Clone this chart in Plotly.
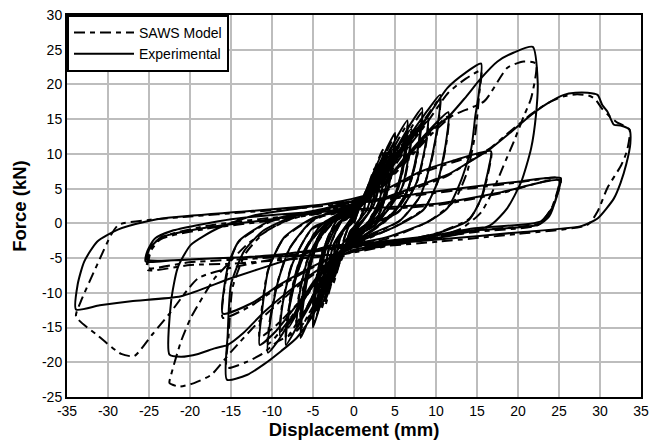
import plotly.graph_objects as go

# ---------------- Data (displacement mm, force kN) ----------------
# Experimental hysteresis, one list of (disp, force) per cycle
exp_c01 = [(0,0),(0.8,2.8),(1.5,4.6),(1.2,2.0),(0.5,0.2),(-0.5,-1.2),(-1.0,-3.0),(-1.5,-5.0),(-1.2,-2.2),(-0.5,-0.1),(0,0.4)]
exp_c02 = [(0.5,1.8),(1.5,4.8),(2.5,7.6),(2.2,4.5),(1.5,1.8),(0,-0.5),(-1.2,-3.6),(-2.5,-8.2),(-2.2,-5.0),(-1.5,-1.5),(0,0.8)]
exp_c03 = [(1.0,3.0),(2.2,6.8),(3.5,10.2),(3.2,6.5),(2.4,2.6),(0.5,-0.6),(-1.5,-4.2),(-2.6,-7.8),(-3.5,-11.2),(-3.2,-7.0),(-2.4,-2.8),(-0.5,0.4),(0,1.2)]
exp_c04 = [(0.8,2.6),(2.0,5.8),(3.0,8.3),(2.7,5.2),(1.8,1.6),(0,-1.0),(-1.8,-5.3),(-3.0,-9.2),(-2.7,-5.8),(-1.8,-1.8),(0,1.0)]
exp_c05 = [(1.2,3.8),(2.8,7.8),(4.0,10.8),(5.0,13.0),(4.7,9.0),(4.0,4.5),(3.0,1.2),(1.0,-0.9),(-1.0,-3.2),(-2.5,-6.5),(-3.8,-10.5),(-5.0,-15.0),(-4.7,-10.5),(-4.0,-5.5),(-3.0,-1.5),(-1.0,1.0),(0,1.6)]
exp_c06 = [(1.0,3.0),(2.5,6.6),(4.0,10.2),(3.7,6.8),(3.0,3.0),(1.5,-0.2),(0,-1.6),(-1.6,-4.4),(-2.8,-8.0),(-4.0,-12.0),(-3.7,-8.0),(-3.0,-3.5),(-1.5,0.4),(0,1.4)]
exp_c07 = [(1.2,3.5),(3.0,7.6),(4.8,11.5),(6.5,14.8),(6.3,11.0),(5.6,6.5),(4.5,2.6),(2.5,-0.3),(0,-2.1),(-2.5,-5.8),(-4.2,-10.0),(-5.5,-13.8),(-6.5,-16.5),(-6.2,-11.8),(-5.4,-6.5),(-4.2,-2.2),(-2.0,0.8),(0,2.0)]
exp_c08 = [(1.4,3.6),(3.0,7.4),(4.5,10.8),(4.2,7.2),(3.4,3.2),(1.6,0.0),(0,-1.4),(-1.8,-4.6),(-3.3,-8.6),(-4.5,-12.6),(-4.2,-8.6),(-3.4,-3.6),(-1.8,0.2),(0,1.2)]
exp_c09 = [(1.5,4.0),(3.2,7.8),(5.0,11.5),(4.7,8.0),(3.8,3.6),(2.0,0.2),(0,-2.4),(-2.0,-5.2),(-3.6,-9.0),(-5.0,-13.0),(-4.7,-9.0),(-3.8,-4.0),(-2.0,0.6),(0,2.3)]
exp_c10 = [(1.5,3.9),(3.5,7.8),(5.5,11.5),(7.0,14.5),(8.3,16.6),(8.0,12.5),(7.2,7.5),(6.0,3.2),(3.5,0.2),(0,-2.8),(-3.0,-6.2),(-5.2,-10.8),(-7.0,-15.0),(-8.3,-17.5),(-8.0,-13.0),(-7.0,-7.5),(-5.5,-3.0),(-3.0,0.5),(0,2.4)]
exp_c11 = [(1.8,4.2),(4.0,8.4),(5.8,11.8),(7.0,13.6),(6.7,10.0),(5.8,5.0),(3.6,1.2),(0,-1.8),(-2.8,-5.6),(-5.0,-10.4),(-7.0,-15.2),(-6.7,-10.6),(-5.7,-5.4),(-3.5,-0.4),(0,1.8)]
exp_c12 = [(2.0,4.5),(4.2,8.8),(6.5,12.8),(6.2,9.2),(5.2,4.5),(3.0,0.8),(0,-2.6),(-2.5,-5.8),(-4.6,-10.0),(-6.5,-14.0),(-6.2,-9.8),(-5.2,-4.8),(-3.0,0.2),(0,2.5)]
exp_c13 = [(2.0,4.4),(4.5,8.8),(7.0,13.0),(9.0,16.3),(10.5,18.5),(10.2,14.0),(9.3,8.5),(8.0,3.8),(5.5,0.3),(2.0,-1.6),(-2.0,-4.5),(-5.0,-8.5),(-7.5,-13.5),(-9.2,-16.8),(-10.5,-18.6),(-10.2,-14.0),(-9.3,-8.5),(-7.8,-3.5),(-5.0,0.5),(0,2.9)]
exp_c14 = [(2.2,4.6),(5.0,9.2),(7.4,13.2),(9.0,15.2),(8.7,11.2),(7.6,5.8),(5.4,1.6),(0,-1.2),(-3.4,-6.0),(-6.4,-11.4),(-9.0,-16.2),(-8.7,-11.6),(-7.5,-5.8),(-5.0,-0.6),(0,1.6)]
exp_c15 = [(2.5,5.0),(5.0,9.5),(8.0,14.0),(7.7,10.0),(6.6,5.0),(4.5,1.0),(0,-2.8),(-3.2,-6.0),(-6.0,-10.8),(-8.0,-15.0),(-7.7,-10.5),(-6.5,-5.0),(-4.0,-0.2),(0,2.6)]
exp_c16 = [(3.0,5.5),(6.0,10.5),(8.5,14.5),(11.4,19.5),(13.5,21.6),(15.5,23.0),(15.2,18.5),(14.8,15.5),(14.3,10.8),(13.0,6.0),(11.4,2.2),(9.0,0.2),(4.0,-2.0),(-1.0,-3.5),(-3.0,-8.0),(-4.9,-13.0),(-7.0,-16.5),(-8.9,-18.4),(-11.0,-20.3),(-13.0,-21.8),(-15.5,-22.5),(-15.4,-16.0),(-15.0,-8.8),(-13.4,-4.0),(-11.0,-1.0),(-7.0,1.2),(-3.0,2.3),(0,3.3)]
exp_c17 = [(3.0,5.0),(6.0,9.2),(9.0,13.2),(11.5,16.0),(11.2,11.5),(10.2,6.0),(8.5,2.0),(5.0,-0.5),(0,-3.0),(-3.5,-6.5),(-6.5,-11.0),(-9.5,-15.5),(-11.5,-17.5),(-11.2,-12.5),(-10.4,-6.5),(-8.5,-2.0),(-5.0,0.8),(0,2.2)]
exp_c18 = [(3.0,5.0),(6.5,9.5),(9.5,13.5),(11.4,15.2),(13.5,18.0),(15.5,20.9),(17.5,23.3),(19.5,24.6),(21.8,25.4),(22.4,20.4),(22.2,15.7),(21.6,10.8),(20.4,6.0),(18.7,2.2),(16.7,-0.2),(12.6,-1.6),(6.0,-2.8),(0,-3.8),(-3.5,-6.0),(-6.9,-8.8),(-10.9,-12.7),(-13.5,-15.8),(-15.4,-17.5),(-17.0,-18.0),(-19.0,-18.8),(-21.1,-19.2),(-22.5,-18.9),(-22.3,-11.2),(-21.5,-6.4),(-19.9,-3.1),(-16.6,-0.7),(-12.0,1.2),(-6.0,2.3),(0,3.6)]
exp_c19 = [(4.0,5.0),(8.0,7.4),(12.0,9.0),(16.7,10.4),(16.5,8.4),(15.5,3.6),(14.0,0.5),(10.0,-1.5),(4.0,-2.8),(0,-3.4),(-5.0,-6.2),(-9.0,-8.8),(-12.5,-11.5),(-16.0,-13.0),(-15.8,-9.0),(-15.2,-5.5),(-14.0,-2.5),(-10.0,0.5),(-4.0,2.0),(0,2.8)]
exp_c20 = [(4.0,3.8),(8.0,5.5),(11.4,7.0),(14.0,8.8),(16.7,10.8),(19.0,13.0),(21.6,15.6),(23.5,17.2),(25.6,18.5),(27.0,18.8),(28.5,18.8),(29.7,18.5),(30.3,17.0),(30.9,16.1),(31.7,14.2),(32.5,14.1),(33.6,13.5),(33.7,11.5),(33.2,8.5),(32.5,5.8),(31.7,3.6),(29.7,0.7),(27.7,-0.4),(20.0,-1.3),(10.6,-2.3),(3.0,-3.0),(-2.8,-3.2),(-8.0,-5.2),(-15.0,-7.9),(-21.1,-10.5),(-27.2,-11.2),(-31.0,-11.8),(-33.9,-12.4),(-33.7,-8.8),(-32.9,-5.5),(-31.3,-2.6),(-28.8,-0.9),(-25.2,0.3),(-22.7,0.8),(-13.4,1.7),(-6.5,2.4),(0.45,3.2)]
exp_c21 = [(2.5,3.4),(8.0,4.3),(14.7,5.3),(20.0,6.0),(25.2,6.5),(24.8,4.2),(24.4,2.7),(22.8,0.3),(14.7,-0.7),(6.0,-2.6),(-1.6,-4.4),(-8.0,-4.7),(-16.0,-5.0),(-22.0,-5.3),(-25.4,-5.5),(-25.2,-4.0),(-24.3,-2.2),(-22.0,-1.0),(-15.0,0.6),(-8.0,1.4),(-1.6,1.9),(10.6,2.9),(18.0,4.5),(25.0,6.2)]
exp_c22 = [(24.6,3.5),(23.8,1.0),(22.5,-0.2),(15.0,-1.0),(8.0,-2.0),(0.45,-3.0),(-10.0,-4.6),(-20.0,-5.2),(-25.2,-5.2),(-25.0,-3.8),(-23.5,-2.0),(-18.0,-0.6),(-10.0,0.6),(-3.0,1.8),(0,2.5)]

# SAWS model hysteresis, one list of (disp, force) per cycle
mod_c01 = [(0,0),(0.7,2.5),(1.5,4.8),(1.3,2.4),(0.6,0.5),(-0.4,-1.1),(-1.0,-3.0),(-1.5,-5.3),(-1.3,-2.6),(-0.6,-0.4),(0,0.3)]
mod_c02 = [(0.6,2.0),(1.6,5.0),(2.5,7.9),(2.3,4.9),(1.6,2.1),(0,-0.6),(-1.3,-3.9),(-2.5,-8.6),(-2.3,-5.5),(-1.6,-1.9),(0,0.7)]
mod_c03 = [(1.0,2.8),(2.3,7.1),(3.5,10.6),(3.3,7.0),(2.5,3.0),(0.4,-0.8),(-1.6,-4.6),(-2.7,-8.4),(-3.5,-11.8),(-3.3,-7.6),(-2.5,-3.2),(-0.4,0.6),(0,1.3)]
mod_c04 = [(0.9,2.7),(2.1,6.1),(3.0,8.6),(2.8,5.5),(1.9,1.8),(0,-1.1),(-1.9,-5.6),(-3.0,-9.6),(-2.8,-6.1),(-1.9,-2.0),(0,1.1)]
mod_c05 = [(1.3,3.6),(2.9,7.5),(4.1,10.6),(5.0,12.6),(4.8,9.4),(4.1,5.0),(3.1,1.5),(1.0,-1.0),(-1.0,-3.5),(-2.6,-7.0),(-3.9,-11.0),(-5.0,-14.6),(-4.8,-11.0),(-4.1,-6.0),(-3.1,-1.9),(-1.0,0.9),(0,1.5)]
mod_c06 = [(1.1,3.1),(2.6,6.8),(4.0,10.0),(3.8,7.0),(3.1,3.2),(1.5,-0.1),(0,-1.8),(-1.7,-4.7),(-2.9,-8.4),(-4.0,-12.4),(-3.8,-8.4),(-3.1,-3.8),(-1.5,0.3),(0,1.5)]
mod_c07 = [(1.3,3.4),(3.1,7.3),(4.9,11.0),(6.5,14.2),(6.3,11.3),(5.7,6.8),(4.6,2.8),(2.6,-0.2),(0,-2.3),(-2.6,-6.2),(-4.3,-10.5),(-5.6,-13.2),(-6.5,-15.2),(-6.3,-12.0),(-5.5,-6.8),(-4.3,-2.5),(-2.1,0.6),(0,1.9)]
mod_c08 = [(1.5,3.5),(3.1,7.2),(4.5,10.4),(4.3,7.4),(3.5,3.4),(1.7,0.1),(0,-1.5),(-1.9,-4.8),(-3.4,-8.9),(-4.5,-12.2),(-4.3,-8.9),(-3.5,-3.8),(-1.9,0.0),(0,1.1)]
mod_c09 = [(1.6,3.8),(3.3,7.5),(5.0,11.0),(4.8,8.2),(3.9,3.9),(2.1,0.4),(0,-2.6),(-2.1,-5.5),(-3.7,-9.4),(-5.0,-12.6),(-4.8,-9.3),(-3.9,-4.3),(-2.1,0.4),(0,2.2)]
mod_c10 = [(1.6,3.7),(3.6,7.5),(5.6,11.2),(7.1,14.0),(8.3,16.0),(8.1,12.8),(7.3,7.8),(6.1,3.4),(3.6,0.3),(0,-3.0),(-3.1,-6.6),(-5.3,-11.2),(-7.1,-14.6),(-8.3,-16.6),(-8.1,-13.2),(-7.1,-7.8),(-5.6,-3.2),(-3.1,0.3),(0,2.2)]
mod_c11 = [(1.9,4.0),(4.1,8.1),(5.9,11.4),(7.0,13.2),(6.8,10.2),(5.9,5.2),(3.7,1.4),(0,-1.9),(-2.9,-5.9),(-5.1,-10.6),(-7.0,-14.6),(-6.8,-10.9),(-5.8,-5.6),(-3.6,-0.6),(0,1.7)]
mod_c12 = [(2.1,4.3),(4.3,8.5),(6.5,12.3),(6.3,9.5),(5.3,4.8),(3.1,1.0),(0,-2.8),(-2.6,-6.1),(-4.7,-10.4),(-6.5,-13.5),(-6.3,-10.0),(-5.3,-5.0),(-3.1,0.0),(0,2.3)]
mod_c13 = [(2.1,4.2),(4.6,8.5),(7.1,12.6),(9.1,15.8),(10.5,18.0),(10.3,14.4),(9.4,8.8),(8.1,4.0),(5.6,0.4),(2.0,-1.8),(-2.0,-4.8),(-5.1,-9.0),(-7.6,-13.4),(-9.3,-16.0),(-10.5,-17.4),(-10.3,-14.2),(-9.4,-8.8),(-7.9,-3.7),(-5.1,0.3),(0,2.7)]
mod_c14 = [(2.3,4.4),(5.1,8.9),(7.5,12.7),(9.0,14.7),(8.8,11.5),(7.7,6.0),(5.5,1.8),(0,-1.3),(-3.5,-6.3),(-6.5,-11.6),(-9.0,-15.6),(-8.8,-12.0),(-7.6,-6.0),(-5.1,-0.8),(0,1.5)]
mod_c15 = [(2.6,4.8),(5.1,9.2),(8.0,13.4),(7.8,10.3),(6.7,5.2),(4.6,1.1),(0,-3.0),(-3.3,-6.4),(-6.1,-11.0),(-8.0,-14.4),(-7.8,-10.8),(-6.6,-5.2),(-4.1,-0.3),(0,2.4)]
mod_c16 = [(3.1,5.3),(6.1,10.2),(8.6,14.0),(11.5,18.8),(13.6,20.8),(15.5,22.0),(15.3,19.0),(14.8,13.0),(13.8,7.4),(12.2,3.2),(9.1,0.3),(4.1,-2.2),(-1.0,-3.8),(-3.1,-8.2),(-5.0,-12.6),(-7.1,-15.6),(-9.3,-17.0),(-11.2,-18.8),(-13.2,-20.0),(-15.5,-20.8),(-15.3,-16.4),(-14.8,-9.2),(-13.2,-4.3),(-10.8,-1.2),(-6.9,1.0),(-2.9,2.1),(0,3.1)]
mod_c17 = [(3.1,4.8),(6.1,8.9),(9.1,12.8),(11.5,15.4),(11.3,11.8),(10.3,6.3),(8.6,2.2),(5.1,-0.4),(0,-3.2),(-3.6,-6.8),(-6.6,-11.2),(-9.6,-14.8),(-11.5,-16.4),(-11.3,-12.8),(-10.5,-6.8),(-8.6,-2.2),(-5.1,0.6),(0,2.1)]
mod_c18 = [(3.1,4.8),(6.6,9.2),(9.6,13.0),(12.0,15.5),(15.9,17.6),(18.7,22.4),(20.7,23.3),(22.2,23.0),(21.6,18.0),(20.8,15.7),(19.5,11.8),(18.2,8.2),(17.1,5.1),(15.5,1.6),(13.0,-0.8),(6.0,-2.9),(0,-4.0),(-3.6,-6.3),(-7.0,-9.2),(-11.0,-13.4),(-15.0,-18.5),(-17.4,-21.8),(-19.5,-23.0),(-21.3,-23.5),(-22.5,-23.0),(-22.3,-21.8),(-21.1,-17.0),(-19.9,-13.6),(-17.0,-7.9),(-15.8,-6.4),(-13.0,-3.0),(-9.0,0.0),(-4.0,1.9),(0,3.4)]
mod_c19 = [(4.1,4.8),(8.1,7.2),(12.1,8.8),(16.7,10.2),(16.5,8.0),(15.6,3.8),(14.1,0.7),(10.1,-1.4),(4.1,-2.9),(0,-3.5),(-5.1,-6.4),(-9.1,-9.1),(-12.6,-11.9),(-16.0,-13.6),(-15.8,-9.4),(-15.2,-5.8),(-14.1,-2.7),(-10.1,0.3),(-4.1,1.8),(0,2.6)]
mod_c20 = [(4.1,3.6),(8.1,5.3),(11.5,6.9),(14.1,8.9),(16.8,11.0),(19.1,13.3),(21.7,15.8),(23.6,17.3),(25.6,18.3),(27.2,18.6),(28.6,18.4),(29.4,17.9),(30.2,16.6),(31.0,15.6),(32.0,14.6),(33.6,13.5),(33.3,10.5),(32.6,8.4),(30.9,5.1),(29.7,1.7),(28.5,-0.2),(20.1,-1.5),(10.6,-2.6),(3.1,-3.3),(-2.8,-3.6),(-9.0,-5.0),(-15.0,-6.4),(-19.0,-7.9),(-22.3,-12.7),(-24.6,-16.0),(-26.8,-19.1),(-28.4,-18.8),(-31.2,-16.2),(-33.9,-13.4),(-33.3,-11.2),(-31.3,-5.9),(-29.6,-1.6),(-28.7,-0.2),(-25.0,0.5),(-20.0,1.0),(-13.3,1.6),(-6.5,2.2),(0.4,3.0)]
mod_c21 = [(2.5,3.2),(8.1,4.1),(14.7,5.1),(20.1,5.9),(25.2,6.5),(24.9,4.5),(24.0,2.0),(22.6,0.0),(14.7,-1.0),(6.1,-2.8),(-1.6,-4.5),(-8.1,-5.2),(-15.0,-5.8),(-20.0,-6.0),(-25.2,-6.7),(-25.0,-5.0),(-24.5,-3.0),(-23.0,-1.8),(-18.1,-0.4),(-10.1,0.8),(-1.6,1.6),(10.6,2.7),(18.1,4.4),(25.0,6.3)]
mod_c22 = [(24.6,3.8),(23.7,1.2),(22.3,-0.3),(15.1,-1.2),(8.1,-2.3),(0.4,-3.2),(-10.1,-4.9),(-20.1,-5.6),(-25.2,-6.4),(-25.0,-4.4),(-23.6,-2.3),(-18.1,-0.8),(-10.1,0.4),(-3.1,1.6),(0,2.3)]

x_ticks = [-35, -30, -25, -20, -15, -10, -5, 0, 5, 10, 15, 20, 25, 30, 35]
y_ticks = [-25, -20, -15, -10, -5, 0, 5, 10, 15, 20, 25, 30]

exp_cycles = [exp_c01, exp_c02, exp_c03, exp_c04, exp_c05, exp_c06, exp_c07, exp_c08, exp_c09, exp_c10, exp_c11,
              exp_c12, exp_c13, exp_c14, exp_c15, exp_c16, exp_c17, exp_c18, exp_c19, exp_c20, exp_c21, exp_c22]
mod_cycles = [mod_c01, mod_c02, mod_c03, mod_c04, mod_c05, mod_c06, mod_c07, mod_c08, mod_c09, mod_c10, mod_c11,
              mod_c12, mod_c13, mod_c14, mod_c15, mod_c16, mod_c17, mod_c18, mod_c19, mod_c20, mod_c21, mod_c22]

exp_d = [p[0] for c in exp_cycles for p in c]
exp_f = [p[1] for c in exp_cycles for p in c]
mod_d = [p[0] for c in mod_cycles for p in c]
mod_f = [p[1] for c in mod_cycles for p in c]

FONT = "Liberation Sans, Arial, sans-serif"

fig = go.Figure()
fig.add_trace(go.Scatter(x=mod_d, y=mod_f, mode="lines", name="SAWS Model",
                         line=dict(color="black", width=2, dash="11px,5px,5px,5px", shape="spline", smoothing=0.6)))
fig.add_trace(go.Scatter(x=exp_d, y=exp_f, mode="lines", name="Experimental",
                         line=dict(color="black", width=2, shape="spline", smoothing=0.6)))

fig.update_layout(
    width=649, height=445,
    margin=dict(l=67, r=8, t=15, b=48, autoexpand=False),
    plot_bgcolor="white", paper_bgcolor="white",
    font=dict(family=FONT, size=14, color="black"),
    legend=dict(x=0, y=1, xanchor="left", yanchor="top", bgcolor="white",
                bordercolor="black", borderwidth=2, font=dict(size=14, family=FONT),
                itemwidth=60, tracegroupgap=0),
    showlegend=True,
)
fig.update_xaxes(range=[-35, 35], tickvals=x_ticks, ticktext=[str(v) for v in x_ticks],
                 showgrid=True, gridcolor="#bdbdbd", gridwidth=2, zeroline=False,
                 showline=True, linecolor="black", linewidth=2, mirror=True, automargin=False,
                 ticks="", tickfont=dict(size=14, family=FONT),
                 title=dict(text="<b>Displacement (mm)</b>", font=dict(size=18.5, family=FONT), standoff=4))
fig.update_yaxes(range=[-25, 30], tickvals=y_ticks, ticktext=[str(v) for v in y_ticks],
                 showgrid=True, gridcolor="#bdbdbd", gridwidth=2, zeroline=False,
                 showline=True, linecolor="black", linewidth=2, mirror=True, automargin=False,
                 ticks="", tickfont=dict(size=14, family=FONT),
                 title=dict(text="<b>Force (kN)</b>", font=dict(size=18.5, family=FONT), standoff=10))

fig.write_html("out.html")
